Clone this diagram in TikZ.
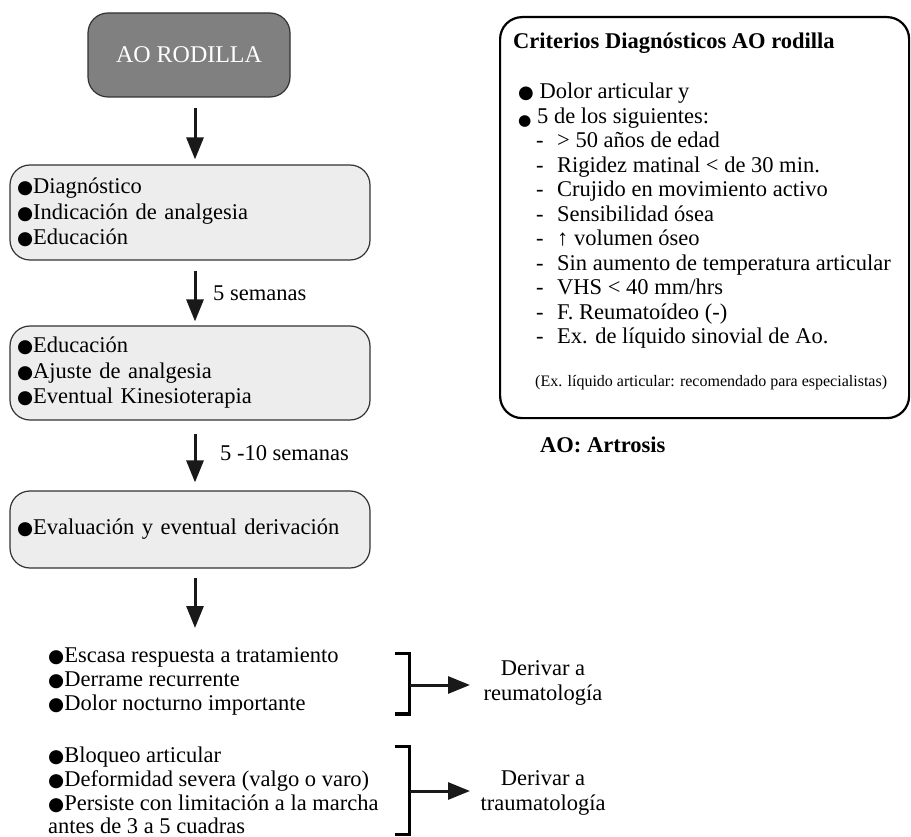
\documentclass[tikz,border=0pt]{standalone}
\usepackage{fontspec}
\setmainfont{Liberation Serif}
\newfontfamily\dejavu{DejaVu Sans}
\usetikzlibrary{arrows.meta}
\newcommand\bul{{\dejavu\fontsize{18.5}{18.5}\selectfont ●}}
\newcommand\cbul{{\dejavu\fontsize{18}{18}\selectfont ●}}
\newcommand\dsh{\makebox[21pt][l]{-}}
\begin{document}
\begin{tikzpicture}[x=1pt,y=-1pt,
  every node/.style={font=\fontsize{22.5}{25.5}\selectfont},
  arr/.style={line width=3pt, black!90, -{Triangle[length=22pt,width=17pt]}},
  flowbox/.style={draw=black!80, line width=1.2pt, fill=black!7, rounded corners=20pt,
    minimum width=360pt, text width=346pt, inner xsep=7pt, align=left},
  listtxt/.style={anchor=base west, inner sep=0pt},
  brk/.style={line width=3.5pt, black}]
\useasboundingbox (0,0) rectangle (911,837);

% flow boxes
\node[draw=black!80, line width=1.2pt, fill=black!50, text=white, rounded corners=20pt,
  minimum width=202pt, minimum height=84pt, font=\fontsize{24}{28}\selectfont]
  (ao) at (189,55) {AO RODILLA};
\node[flowbox, minimum height=95pt] (b1) at (190,212.5)
  {\bul Diagnóstico\\\bul Indicación de analgesia\\\bul Educación};
\node[flowbox, minimum height=94pt] (b2) at (190,373)
  {\bul Educación\\\bul Ajuste de analgesia\\\bul Eventual Kinesioterapia};
\node[flowbox, minimum height=77pt] (b3) at (190,529.5)
  {\bul Evaluación y eventual derivación};

\draw[arr] ([xshift=6pt,yshift=-10pt]ao.south) -- ([xshift=5pt,yshift=5pt]b1.north);
\draw[arr] ([xshift=5pt,yshift=-10pt]b1.south) -- ([xshift=5pt,yshift=4pt]b2.north);
\draw[arr] ([xshift=5pt,yshift=-13pt]b2.south) -- ([xshift=5pt,yshift=8pt]b3.north);
\coordinate (a4end) at (195,628);
\draw[arr] ([xshift=5pt,yshift=-9pt]b3.south) -- (a4end);

\node[anchor=west, inner sep=0pt] (l5) at (213,293) {5 semanas};
\node[anchor=west, inner sep=0pt] (l510) at (220,453) {5 -10 semanas};

% lists
\node[listtxt] (i1) at (48,662) {\bul Escasa respuesta a tratamiento};
\node[listtxt] (i2) at (48,686) {\bul Derrame recurrente};
\node[listtxt] (i3) at (48,710) {\bul Dolor nocturno importante};
\node[listtxt] (j1) at (48,762) {\bul Bloqueo articular};
\node[listtxt] (j2) at (48,786) {\bul Deformidad severa (valgo o varo)};
\node[listtxt] (j3) at (48,810) {\bul Persiste con limitación a la marcha};
\node[listtxt] (j4) at (48,833) {antes de 3 a 5 cuadras};

% brackets
\draw[brk] (395,653.5) -- (409.5,653.5) -- (409.5,714) -- (395,714);
\coordinate (br1) at (409.5,685);
\coordinate (br1t) at (470,685);
\draw[arr] (br1) -- (br1t);
\draw[brk] (395,746.5) -- (409.5,746.5) -- (409.5,834.5) -- (395,834.5);
\coordinate (br2) at (409.5,791);
\coordinate (br2t) at (470,791);
\draw[arr] (br2) -- (br2t);

\node[align=center] (der1) at (543,683) {Derivar a\\reumatología};
\node[align=center] (der2) at (543,793) {Derivar a\\traumatología};

% criteria box
\node[draw=black, line width=2.2pt, rounded corners=22pt, minimum width=409pt,
  minimum height=401pt, anchor=north west] (crit) at (499,16) {};
\node[anchor=base west, inner sep=0pt, font=\bfseries\fontsize{22.5}{25.5}\selectfont]
  (ctitle) at (513,49) {Criterios Diagnósticos AO rodilla};
\node[anchor=north west, inner sep=0pt, align=left, font=\fontsize{22.5}{24.5}\selectfont]
  (clist) at (518,83)
  {\cbul\ Dolor articular y\\
   \raisebox{-2.5pt}{\scalebox{0.85}{\cbul}}\ 5 de los siguientes:\\
   \hspace*{18pt}\dsh > 50 años de edad\\
   \hspace*{18pt}\dsh Rigidez matinal < de 30 min.\\
   \hspace*{18pt}\dsh Crujido en movimiento activo\\
   \hspace*{18pt}\dsh Sensibilidad ósea\\
   \hspace*{18pt}\dsh ↑ volumen óseo\\
   \hspace*{18pt}\dsh Sin aumento de temperatura articular\\
   \hspace*{18pt}\dsh VHS < 40 mm/hrs\\
   \hspace*{18pt}\dsh F. Reumatoídeo (-)\\
   \hspace*{18pt}\dsh Ex. de líquido sinovial de Ao.};
\node[anchor=base west, inner sep=0pt, font=\fontsize{16}{18}\selectfont]
  (cnote) at (535,386) {(Ex. líquido articular: recomendado para especialistas)};
\node[anchor=base west, inner sep=0pt, font=\bfseries\fontsize{22.5}{25.5}\selectfont]
  (artro) at (540,452) {AO: Artrosis};
\end{tikzpicture}
\end{document}
